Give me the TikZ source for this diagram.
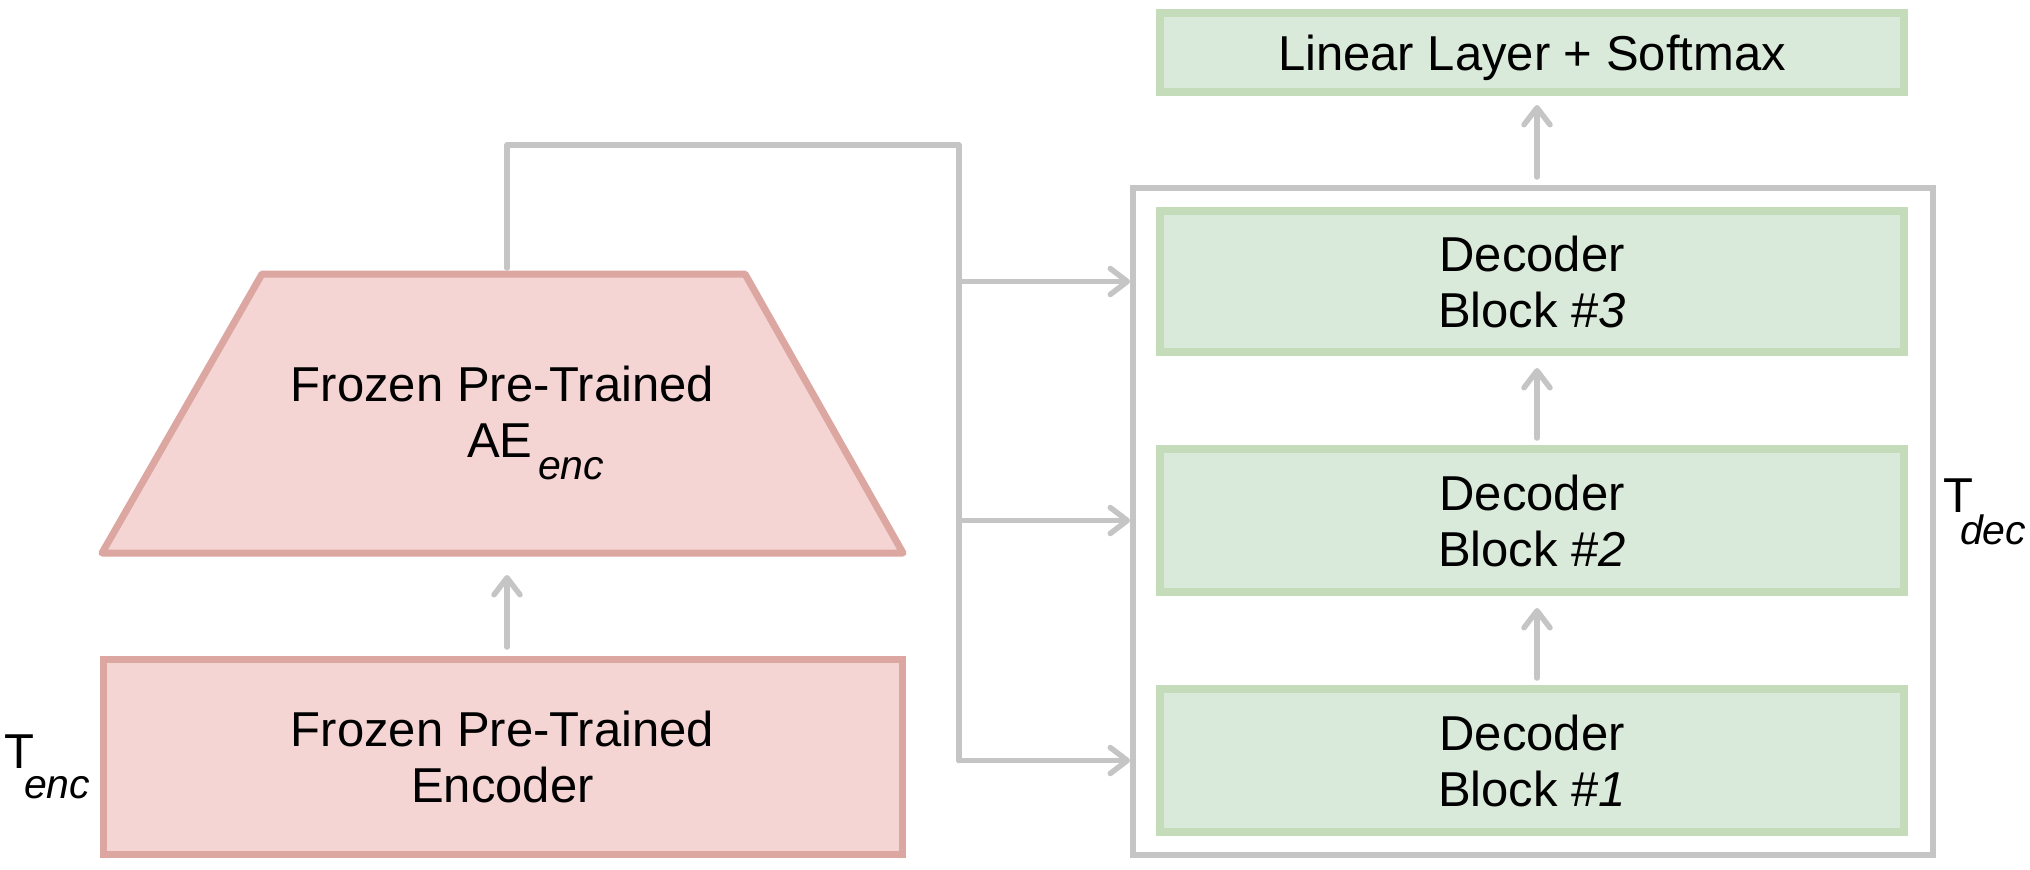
\documentclass[tikz,border=0pt]{standalone}
\usepackage{fontspec}
\setmainfont{Liberation Sans}
\usetikzlibrary{arrows.meta,calc}
\definecolor{pinkfill}{HTML}{F5D5D4}
\definecolor{pinkline}{HTML}{DCA6A1}
\definecolor{greenfill}{HTML}{DAEADA}
\definecolor{greenline}{HTML}{C4DCBA}
\definecolor{grayline}{HTML}{C4C5C4}
\tikzset{
  txt/.style={font=\fontsize{49}{56}\selectfont, text=black},
  lbl/.style={txt, inner sep=0pt, outer sep=0pt},
  sublbl/.style={font=\fontsize{41}{41}\selectfont\itshape, text=black, inner sep=0pt, outer sep=0pt},
  greenbox/.style={draw=greenline, fill=greenfill, line width=8pt, outer sep=0pt, inner sep=0pt,
    minimum width=744pt, align=center, txt},
  pinkbox/.style={draw=pinkline, fill=pinkfill, line width=7pt, outer sep=0pt, inner sep=0pt,
    align=center, txt},
  pinkshape/.style={draw=pinkline, fill=pinkfill, line width=7pt, line join=round},
  framebox/.style={draw=grayline, line width=5.5pt, outer sep=0pt, inner sep=0pt},
  link/.style={draw=grayline, line width=5.5pt, line cap=round, line join=round},
  conn/.style={link, -{Straight Barb[length=17pt,width=26pt,round]}},
}
\begin{document}
\begin{tikzpicture}[x=1pt,y=-1pt]
\useasboundingbox (0,0) rectangle (2030,870);

% right side
\node[greenbox, minimum height=79pt, text height=35pt, text depth=0pt] (lin) at (1532,52.5) {Linear Layer + Softmax};
\node[framebox, minimum width=800pt, minimum height=667pt] (tdec) at (1533,521.5) {};
\node[greenbox, minimum height=141pt] (d3) at (1532,281.5) {Decoder\\Block \#\textit{3}};
\node[greenbox, minimum height=143pt] (d2) at (1532,520.5) {Decoder\\Block \#\textit{2}};
\node[greenbox, minimum height=143pt] (d1) at (1532,760.5) {Decoder\\Block \#\textit{1}};

\node[lbl, anchor=base west] (tdecT) at (1943,512) {T};
\node[sublbl, anchor=base west] (tdecs) at (1960,544) {dec};

% left side
\node[pinkbox, minimum width=799pt, minimum height=195pt] (enc) at (502.5,756.5) {Frozen Pre-Trained\\Encoder};
\node[inner sep=0pt, outer sep=0pt, minimum width=801pt, minimum height=279pt] (ae) at (502.5,413.5) {};
\draw[pinkshape] ([xshift=160pt]ae.north west) -- ([xshift=-158pt]ae.north east)
  -- (ae.south east) -- (ae.south west) -- cycle;
\node[lbl, anchor=base] (aet1) at (502.5,401) {Frozen Pre-Trained};
\node[lbl, anchor=base west] (aet2) at (467,457) {AE};
\node[sublbl, anchor=base west] (aet3) at (538,479) {enc};

\node[lbl, anchor=base west] (tencT) at (5,768) {T};
\node[sublbl, anchor=base west] (tencs) at (24,798) {enc};

% connectors
\draw[conn, shorten <=12pt, shorten >=22pt] ([xshift=4.5pt]enc.north) -- ([xshift=4.5pt]ae.south);
\coordinate (bustop) at (959,145);
\draw[link] ([xshift=4.5pt,yshift=6pt]ae.north) |- (bustop) -- (bustop |- d1.west);
\foreach \b in {d3,d2,d1}
  \draw[conn, shorten >=3pt] (bustop |- \b.west) -- (tdec.west |- \b.west);

\draw[conn, shorten <=11pt, shorten >=16pt] ([xshift=5pt]d1.north) -- ([xshift=5pt]d2.south);
\draw[conn, shorten <=11pt, shorten >=16pt] ([xshift=5pt]d2.north) -- ([xshift=5pt]d3.south);
\draw[conn, shorten <=11pt, shorten >=13pt] ([xshift=4pt]tdec.north) -- ([xshift=5pt]lin.south);
\end{tikzpicture}
\end{document}
